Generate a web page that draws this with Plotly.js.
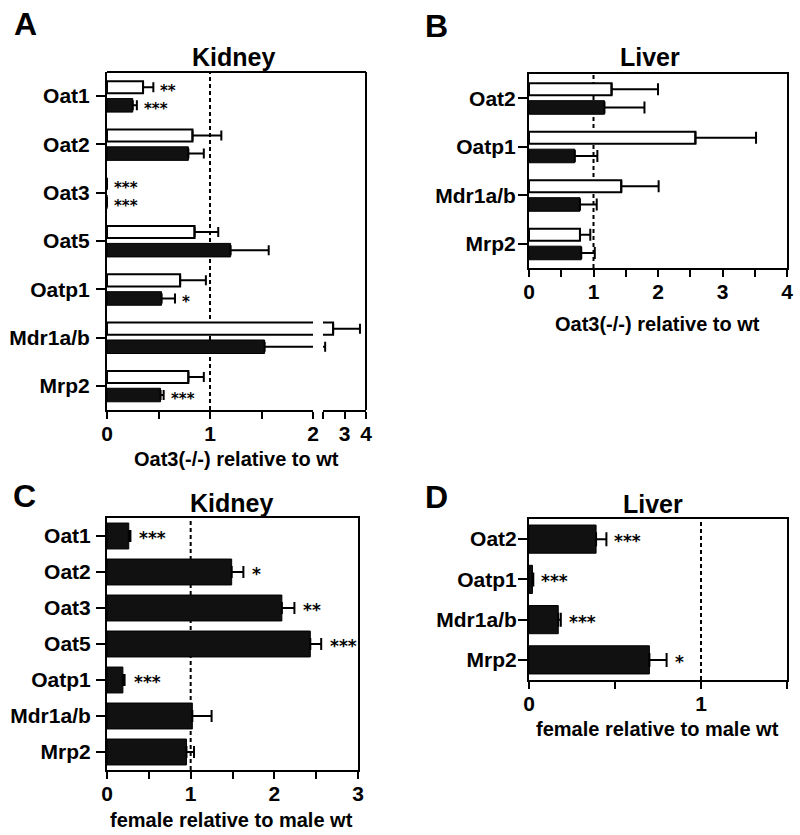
<!DOCTYPE html>
<html><head><meta charset="utf-8">
<script src="https://cdn.plot.ly/plotly-3.0.1.min.js"></script>
<style>html,body{margin:0;padding:0;background:#fff}</style>
</head><body><div id="chart" style="width:800px;height:835px"></div>
<script>
// ---------- data ----------
const kidneyGenes = ["Oat1","Oat2","Oat3","Oat5","Oatp1","Mdr1a/b","Mrp2"];
const liverGenes  = ["Oat2","Oatp1","Mdr1a/b","Mrp2"];

// Panel A: kidney, Oat3(-/-) relative to wt (white = males, black = females)
const aMale       = [0.35, 0.83, 0, 0.85, 0.71, 2.47, 0.79];
const aMaleErr    = [0.10, 0.28, 0, 0.23, 0.25, 1.25, 0.15];
const aMaleStars  = ["**", "", "***", "", "", "", ""];
const aFemale     = [0.25, 0.79, 0, 1.20, 0.53, 1.53, 0.52];
const aFemaleErr  = [0.04, 0.15, 0, 0.37, 0.13, 0.57, 0.03];
const aFemaleStars= ["***", "", "***", "", "*", "", "***"];

// Panel B: liver, Oat3(-/-) relative to wt
const bMale       = [1.28, 2.58, 1.43, 0.79];
const bMaleErr    = [0.72, 0.94, 0.58, 0.16];
const bFemale     = [1.17, 0.71, 0.79, 0.81];
const bFemaleErr  = [0.62, 0.35, 0.26, 0.21];

// Panel C: kidney, female relative to male wt
const cRatio = [0.26, 1.49, 2.09, 2.43, 0.19, 1.02, 0.95];
const cErr   = [0.02, 0.14, 0.15, 0.13, 0.02, 0.23, 0.09];
const cStars = ["***", "*", "**", "***", "***", "", ""];

// Panel D: liver, female relative to male wt
const dRatio = [0.39, 0.02, 0.17, 0.70];
const dErr   = [0.06, 0.005, 0.015, 0.10];
const dStars = ["***", "***", "***", "*"];

// tick labels
const ticksA1 = {vals:[0,0.5,1,1.5,2], text:["0","","1","","2"]};
const ticksA2 = {vals:[2,3,4], text:["","3","4"]};
const ticksB  = {vals:[0,0.5,1,1.5,2,2.5,3,3.5,4], text:["0","","1","","2","","3","","4"]};
const ticksC  = {vals:[0,0.5,1,1.5,2,2.5,3], text:["0","","1","","2","","3"]};
const ticksD  = {vals:[0,0.5,1,1.5], text:["0","","1",""]};

// ---------- layout helpers ----------
const W = 800, H = 835;
const px = x => x / W;
const py = y => 1 - y / H;
const FONT = "Liberation Sans, Arial, Helvetica, sans-serif";
const STAR_FONT = "DejaVu Sans, Liberation Sans, sans-serif";
const zeros = a => a.map(() => 0);

const dom = {
  A1: {x:[107,313], y:[72,410]},
  A2: {x:[323,366], y:[72,410]},
  B:  {x:[529,787], y:[74,268]},
  C:  {x:[107,358], y:[518,770]},
  D:  {x:[529,787], y:[519,680]}
};
const xd = d => [px(d.x[0]), px(d.x[1])];
const yd = d => [py(d.y[1]), py(d.y[0])];

function xAxis(d, range, t, anchor, mirror) {
  return {domain: xd(d), range: range, anchor: anchor, tickmode: "array",
    tickvals: t.vals, ticktext: t.text, ticks: "outside", ticklen: 7, tickwidth: 2,
    tickcolor: "#000", showline: true, linewidth: 2, linecolor: "#000",
    mirror: mirror, showgrid: false, zeroline: false, fixedrange: true,
    ticklabelstandoff: -3,
    tickfont: {family: FONT, size: 21, color: "#000", weight: "bold"}};
}
function yAxis(d, cats, anchor, mirror, standoff) {
  return {domain: yd(d), type: "category", categoryorder: "array", categoryarray: cats,
    range: [cats.length - 0.5, -0.5], anchor: anchor, ticks: "outside", ticklen: 9,
    tickwidth: 2, tickcolor: "#000", showline: true, linewidth: 2, linecolor: "#000",
    mirror: mirror, showgrid: false, zeroline: false, fixedrange: true,
    ticklabelstandoff: standoff,
    tickfont: {family: FONT, size: 21, color: "#000", weight: "bold"}};
}

function bar(xv, err, cats, xa, ya, fill, width, offset, cap) {
  return {type: "bar", orientation: "h", x: xv, y: cats, xaxis: xa, yaxis: ya,
    width: width, offset: offset, showlegend: false, hoverinfo: "skip",
    marker: {color: fill, line: {color: "#000", width: fill === "#fff" ? 2 : 1}},
    error_x: {type: "data", symmetric: false, array: err, arrayminus: zeros(err),
      color: "#000", thickness: 2, width: cap}};
}

const WHITE_W = 0.25, WHITE_OFF = -0.31, BLACK_W = 0.28, BLACK_OFF = 0.05;

const data = [
  bar(aMale,   aMaleErr,   kidneyGenes, "x",  "y", "#fff", WHITE_W, WHITE_OFF, 5),
  bar(aFemale, aFemaleErr, kidneyGenes, "x",  "y", "#111", BLACK_W, BLACK_OFF, 5),
  bar(aMale,   aMaleErr,   kidneyGenes, "x2", "y", "#fff", WHITE_W, WHITE_OFF, 5),
  bar(aFemale, aFemaleErr, kidneyGenes, "x2", "y", "#111", BLACK_W, BLACK_OFF, 5),
  bar(bMale,   bMaleErr,   liverGenes,  "x3", "y3", "#fff", WHITE_W, WHITE_OFF, 6),
  bar(bFemale, bFemaleErr, liverGenes,  "x3", "y3", "#111", BLACK_W, BLACK_OFF, 6),
  bar(cRatio,  cErr,       kidneyGenes, "x4", "y4", "#111", 0.72, -0.36, 6),
  bar(dRatio,  dErr,       liverGenes,  "x5", "y5", "#111", 0.70, -0.35, 7)
];

// ---------- annotations ----------
const ann = [];
function txt(x, y, text, size, bold) {
  ann.push({xref: "paper", yref: "paper", x: px(x), y: py(y), text: text, showarrow: false,
    xanchor: "center", yanchor: "middle",
    font: {family: FONT, size: size, color: "#000", weight: bold ? "bold" : "normal"}});
}
txt(25, 24, "A", 32, true);
txt(436, 26, "B", 32, true);
txt(24, 496, "C", 32, true);
txt(436, 497, "D", 32, true);
txt(233, 57, "Kidney", 25, true);
txt(650, 57, "Liver", 25, true);
txt(232, 503, "Kidney", 25, true);
txt(653, 504, "Liver", 25, true);
txt(236, 459, "Oat3(-/-) relative to wt", 20, true);
txt(657, 324, "Oat3(-/-) relative to wt", 20, true);
txt(232, 820, "female relative to male wt", 20, true);
txt(657, 729, "female relative to male wt", 20, true);

function stars(vals, errs, marks, xa, ya, dy, shift, size, yshift) {
  marks.forEach((m, i) => {
    if (!m) return;
    ann.push({xref: xa, yref: ya, x: vals[i] + errs[i], y: i + dy, text: m, showarrow: false,
      xanchor: "left", yanchor: "middle", xshift: shift, yshift: yshift,
      font: {family: STAR_FONT, size: size, color: "#000", weight: "bold"}});
  });
}
stars(aMale,   aMaleErr,   aMaleStars,   "x",  "y",  WHITE_OFF + WHITE_W / 2, 5, 15, -4);
stars(aFemale, aFemaleErr, aFemaleStars, "x",  "y",  BLACK_OFF + BLACK_W / 2, 5, 15, -4);
stars(cRatio,  cErr,       cStars,       "x4", "y4", 0, 7, 17, -2);
stars(dRatio,  dErr,       dStars,       "x5", "y5", 0, 6, 17, -2);

// ---------- shapes ----------
const dotted = (xr, yr) => ({type: "line", xref: xr, yref: yr + " domain", x0: 1, x1: 1, y0: 0, y1: 1,
  layer: "below", line: {color: "#000", width: 2, dash: "4px,3px"}});
const shapes = [
  dotted("x", "y"), dotted("x3", "y3"), dotted("x4", "y4"), dotted("x5", "y5"),
  // frame of panel A (continuous across the axis break)
  {type: "line", xref: "paper", yref: "paper", x0: px(dom.A1.x[0]) , x1: px(dom.A2.x[1]),
    y0: py(dom.A1.y[0]), y1: py(dom.A1.y[0]), line: {color: "#000", width: 2}},
  {type: "line", xref: "paper", yref: "paper", x0: px(dom.A2.x[1]), x1: px(dom.A2.x[1]),
    y0: py(dom.A1.y[0]), y1: py(dom.A1.y[1]), line: {color: "#000", width: 2}}
];

const layout = {
  width: W, height: H, margin: {l: 0, r: 0, t: 0, b: 0},
  paper_bgcolor: "#fff", plot_bgcolor: "#fff", barmode: "overlay", showlegend: false,
  font: {family: FONT, color: "#000"},
  xaxis:  xAxis(dom.A1, [0, 2], ticksA1, "y", false),
  xaxis2: xAxis(dom.A2, [2, 4], ticksA2, "y", false),
  yaxis:  yAxis(dom.A1, kidneyGenes, "x", false, 2),
  xaxis3: xAxis(dom.B, [0, 4], ticksB, "y3", true),
  yaxis3: yAxis(dom.B, liverGenes, "x3", true, -2),
  xaxis4: xAxis(dom.C, [0, 3], ticksC, "y4", true),
  yaxis4: yAxis(dom.C, kidneyGenes, "x4", true, 1),
  xaxis5: xAxis(dom.D, [0, 1.5], ticksD, "y5", true),
  yaxis5: yAxis(dom.D, liverGenes, "x5", true, -3),
  annotations: ann, shapes: shapes
};

Plotly.newPlot("chart", data, layout, {displayModeBar: false, staticPlot: true});
</script></body></html>
